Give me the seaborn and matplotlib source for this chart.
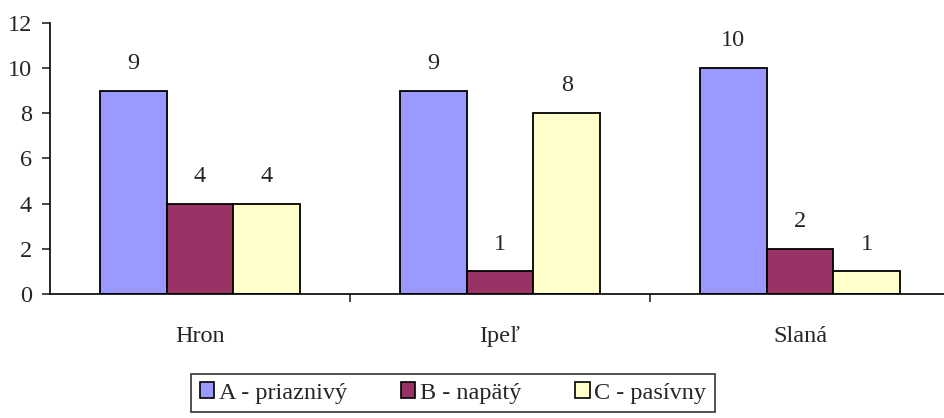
import pandas as pd
import seaborn as sns
import matplotlib.pyplot as plt
from matplotlib.patches import Patch

# data
rivers = ["Hron", "Ipeľ", "Slaná"]
series = ["A - priaznivý", "B - napätý", "C - pasívny"]
a_vals = [9, 9, 10]
b_vals = [4, 1, 2]
c_vals = [4, 8, 1]
colors = ["#9999FF", "#993366", "#FFFFCC"]

df = pd.DataFrame({
    "river": rivers * 3,
    "series": [s for s in series for _ in rivers],
    "value": a_vals + b_vals + c_vals,
})

sns.set_style("white")
plt.rcParams["font.family"] = ["Liberation Serif", "DejaVu Serif"]
FS = 17.5

fig = plt.figure(figsize=(9.44, 4.18), dpi=100)
ax = fig.add_axes([50 / 944, 1 - 294 / 418, 900 / 944, (294 - 22.7) / 418])

sns.barplot(data=df, x="river", y="value", hue="series", palette=colors,
            width=0.667, gap=0, edgecolor="black", linewidth=1.3,
            saturation=1, ax=ax, legend=False)

for cont in ax.containers:
    ax.bar_label(cont, padding=12, fontsize=FS)

ax.set_xlim(-0.5, 2.5)
ax.set_ylim(0, 12)
ax.set_yticks(range(0, 13, 2))
ax.set_xlabel("")
ax.set_ylabel("")
ax.tick_params(axis="y", labelsize=FS, length=6, width=1.2, direction="out", left=True, pad=7)
ax.set_xticks([0, 1, 2])
ax.set_xticklabels(rivers, fontsize=FS)
ax.tick_params(axis="x", length=0, pad=23)
ax.set_xticks([0.5, 1.5], minor=True)
ax.tick_params(axis="x", which="minor", length=6, width=1.2, direction="out", bottom=True)
for side in ["top", "right"]:
    ax.spines[side].set_visible(False)
for side in ["left", "bottom"]:
    ax.spines[side].set_color("black")
    ax.spines[side].set_linewidth(1.2)

handles = [Patch(facecolor=c, edgecolor="black", linewidth=1.2) for c in colors]
leg = fig.legend(handles, series, loc="lower center", ncol=3,
                 bbox_to_anchor=(453 / 944, -0.015), fontsize=FS, frameon=True,
                 fancybox=False, edgecolor="black", handlelength=0.6,
                 handleheight=0.6, handletextpad=0.2, columnspacing=2.2,
                 borderpad=0.35)
leg.get_frame().set_linewidth(1.2)

fig.savefig("out.png", dpi=100)
